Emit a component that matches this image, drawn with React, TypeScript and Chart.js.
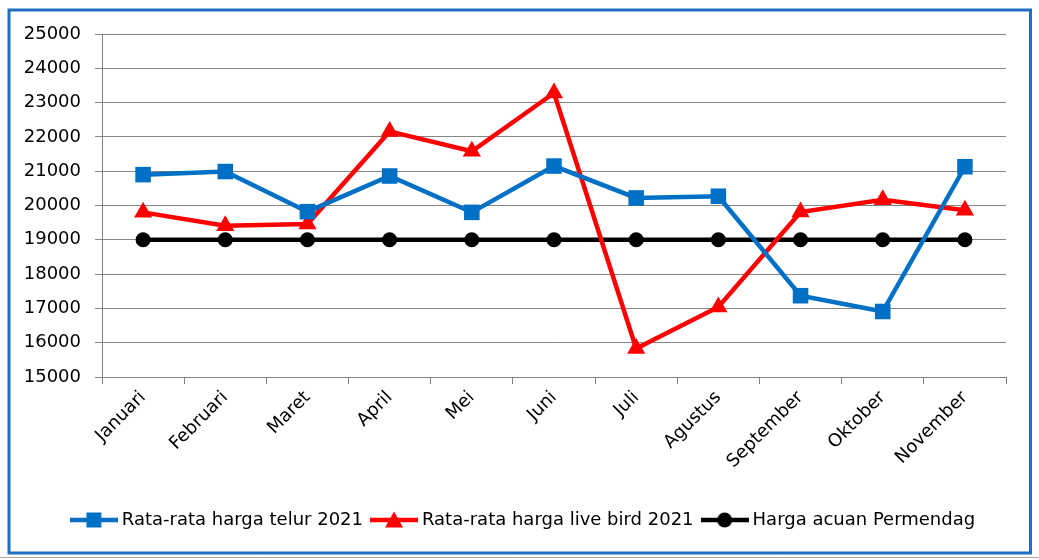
import React, { useEffect, useRef } from "react";
import { Chart, registerables } from "chart.js";

Chart.register(...registerables);

const months = [
  "Januari", "Februari", "Maret", "April", "Mei", "Juni",
  "Juli", "Agustus", "September", "Oktober", "November",
];
const telur2021 = [20900, 20990, 19820, 20860, 19800, 21150, 20220, 20270, 17370, 16910, 21130];
const liveBird2021 = [19800, 19410, 19460, 22160, 21580, 23280, 15830, 17040, 19810, 20170, 19860];
const acuanPermendag = [19000, 19000, 19000, 19000, 19000, 19000, 19000, 19000, 19000, 19000, 19000];
const seriesNames = ["Rata-rata harga telur 2021", "Rata-rata harga live bird 2021", "Harga acuan Permendag"];
const yMin = 15000;
const yMax = 25000;
const yStep = 1000;

const BLUE = "#0070C6";
const RED = "#FF0000";
const BLACK = "#000000";
const FONT = "'DejaVu Sans', sans-serif";

function legendImage(color: string, style: string): HTMLCanvasElement {
  const c = document.createElement("canvas");
  c.width = 48;
  c.height = 20;
  const ctx = c.getContext("2d")!;
  ctx.strokeStyle = color;
  ctx.lineWidth = 4.5;
  ctx.beginPath();
  ctx.moveTo(0, 10);
  ctx.lineTo(48, 10);
  ctx.stroke();
  ctx.fillStyle = color;
  if (style === "rect") {
    ctx.fillRect(24 - 7.5, 10 - 7.5, 15, 15);
  } else if (style === "triangle") {
    ctx.beginPath();
    ctx.moveTo(24, 1.5);
    ctx.lineTo(33, 17.5);
    ctx.lineTo(15, 17.5);
    ctx.closePath();
    ctx.fill();
  } else {
    ctx.beginPath();
    ctx.arc(24, 10, 7.5, 0, Math.PI * 2);
    ctx.fill();
  }
  return c;
}

const frame = {
  id: "frame",
  beforeDraw(chart: any) {
    const ctx = chart.ctx;
    ctx.save();
    ctx.fillStyle = "#ffffff";
    ctx.fillRect(0, 0, chart.width, chart.height);
    ctx.strokeStyle = "#a6a6a6";
    ctx.lineWidth = 1;
    ctx.beginPath();
    ctx.moveTo(0, 557.5);
    ctx.lineTo(chart.width, 557.5);
    ctx.stroke();
    ctx.strokeStyle = "#1F6FC0";
    ctx.lineWidth = 3;
    ctx.strokeRect(9, 10, 1021.5, 543);
    ctx.restore();
  },
};

const legendShift = {
  id: "legendShift",
  afterLayout(chart: any) {
    const lg = chart.legend;
    if (lg) {
      lg.left += 22;
      lg.right += 22;
    }
  },
};

export default function App() {
  const ref = useRef<HTMLCanvasElement | null>(null);

  useEffect(() => {
    if (!ref.current) return;
    const images = [legendImage(BLUE, "rect"), legendImage(RED, "triangle"), legendImage(BLACK, "circle")];
    const chart = new Chart(ref.current, {
      type: "line",
      data: {
        labels: months,
        datasets: [
          {
            label: seriesNames[0],
            data: telur2021,
            borderColor: BLUE,
            backgroundColor: BLUE,
            borderWidth: 4.5,
            pointStyle: "rect",
            pointRadius: 11,
            pointBorderWidth: 0,
            tension: 0,
          },
          {
            label: seriesNames[1],
            data: liveBird2021,
            borderColor: RED,
            backgroundColor: RED,
            borderWidth: 4.5,
            pointStyle: "triangle",
            pointRadius: 10.5,
            pointBorderWidth: 0,
            tension: 0,
          },
          {
            label: seriesNames[2],
            data: acuanPermendag,
            borderColor: BLACK,
            backgroundColor: BLACK,
            borderWidth: 4.5,
            pointStyle: "circle",
            pointRadius: 7.5,
            pointBorderWidth: 0,
            tension: 0,
          },
        ],
      },
      options: {
        animation: false,
        responsive: false,
        devicePixelRatio: 1,
        layout: { padding: { left: 0, right: 33, top: 34, bottom: 21 } },
        plugins: {
          title: { display: false },
          tooltip: { enabled: false },
          legend: {
            position: "bottom",
            labels: {
              usePointStyle: true,
              pointStyleWidth: 38,
              padding: 12,
              color: "#000",
              font: { family: FONT, size: 18 },
              generateLabels: (ch: any) => {
                const base = Chart.defaults.plugins.legend.labels.generateLabels(ch);
                return base.map((l: any, i: number) => ({ ...l, pointStyle: images[i] }));
              },
            },
          },
        },
        scales: {
          x: {
            type: "category",
            offset: true,
            afterFit: (s: any) => {
              s.height = 122;
            },
            grid: {
              display: true,
              drawOnChartArea: false,
              drawTicks: true,
              tickLength: 7,
              offset: true,
              color: "#808080",
            },
            border: { display: true, color: "#808080", width: 1 },
            ticks: {
              autoSkip: false,
              minRotation: 45,
              maxRotation: 45,
              padding: 3,
              color: "#000",
              font: { family: FONT, size: 18 },
            },
          },
          y: {
            min: yMin,
            max: yMax,
            afterFit: (s: any) => {
              s.width = 102;
            },
            grid: {
              color: "#868686",
              lineWidth: 1,
              tickLength: 7,
              drawTicks: true,
            },
            border: { display: true, color: "#808080", width: 1 },
            ticks: {
              stepSize: yStep,
              padding: 14,
              color: "#000",
              font: { family: FONT, size: 18 },
              callback: (v: any) => String(v),
            },
          },
        },
      },
      plugins: [frame, legendShift],
    });
    return () => chart.destroy();
  }, []);

  return (
    <div style={{ position: "fixed", left: 0, top: 0, width: 1039, height: 560, background: "#fff" }}>
      <canvas ref={ref} width={1039} height={560} style={{ width: 1039, height: 560, display: "block" }} />
    </div>
  );
}
